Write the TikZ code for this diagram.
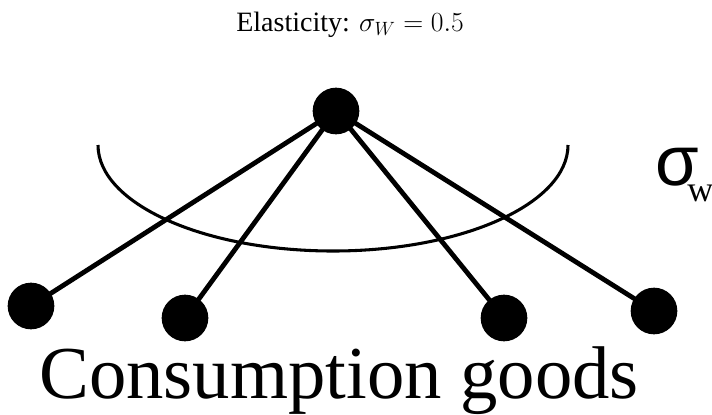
\documentclass[tikz,border=0pt]{standalone}
\usepackage{fontspec}
\setmainfont{Liberation Serif}
\newfontfamily\sigmafont{Liberation Sans}
\usepackage{tikz}

\begin{document}
\begin{tikzpicture}[x=0.75pt, y=0.75pt,
    dot/.style={circle, fill=black, inner sep=0pt, minimum size=35},
    branch/.style={line width=3.6pt},
    nest/.style={line width=2.3pt}]
  \useasboundingbox (0,0) rectangle (712,-414);

  % Title
  \node[anchor=base] (title) at (350,-31) {\fontsize{21}{24}\selectfont Elasticity: $\sigma_W = 0.5$};

  % Nest curve
  \draw[nest] (98,-145) arc[start angle=180, end angle=360, x radius=235, y radius=106];

  % Top node and goods
  \node[dot] (agg) at (336,-111) {};
  \node[dot] (g1) at (31,-306) {};
  \node[dot] (g2) at (185,-318) {};
  \node[dot] (g3) at (504,-318) {};
  \node[dot] (g4) at (654,-311) {};

  \foreach \g in {g1,g2,g3,g4}
    \draw[branch] (agg.center) -- (\g.center);

  % Elasticity label
  \node[anchor=base west, inner sep=0pt] (sig) at (655,-185) {\fontsize{53}{60}\sigmafont σ};
  \node[anchor=base west, inner sep=0pt] (sigw) at (687,-201) {\fontsize{27}{30}\selectfont w};

  % Bottom label
  \node[anchor=base] (goods) at (339,-398) {\fontsize{56}{60}\selectfont Consumption goods};
\end{tikzpicture}
\end{document}
